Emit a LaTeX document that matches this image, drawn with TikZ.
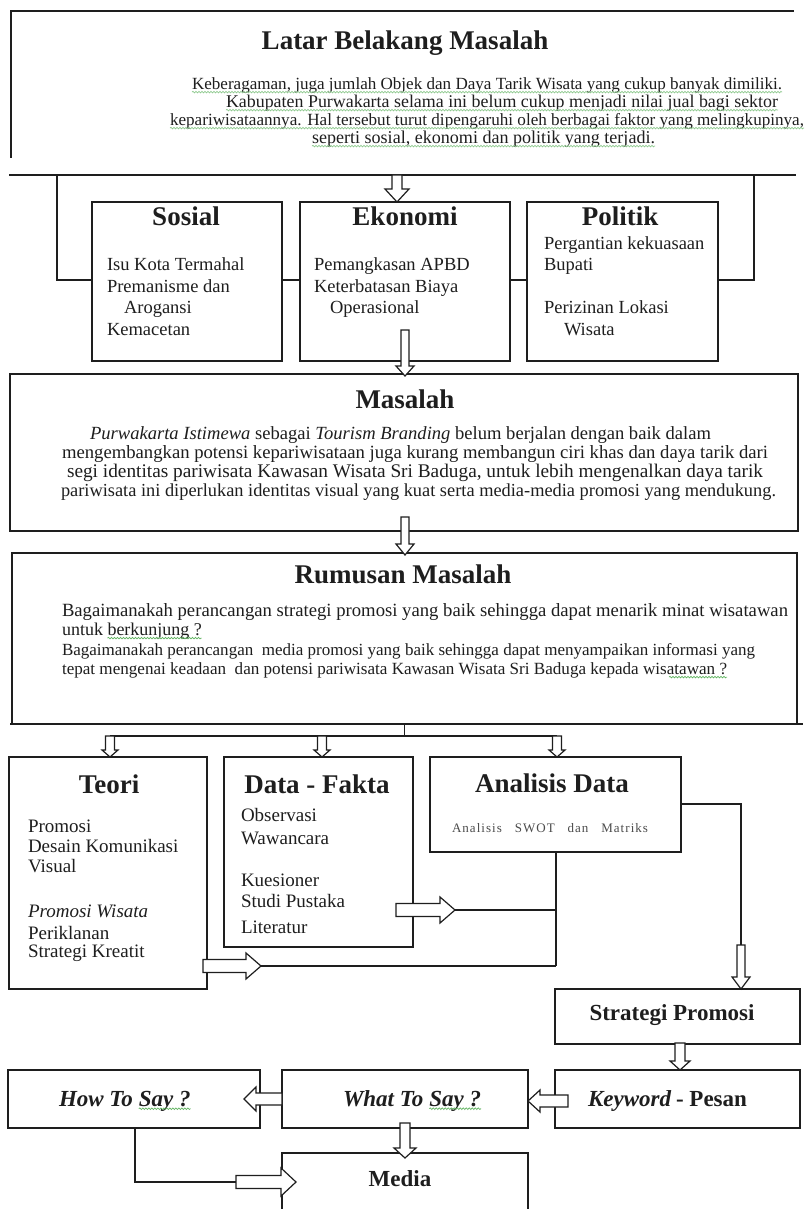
\documentclass[tikz,border=0pt]{standalone}
\usepackage{fontspec}
\setmainfont{Liberation Serif}
\usepackage{graphicx}
\usetikzlibrary{calc,decorations.pathmorphing}
\definecolor{ink}{HTML}{1E1E1E}
\definecolor{squig}{HTML}{62B562}
\newcommand{\fitw}[2]{\resizebox{#1pt}{!}{#2}}
\begin{document}
\begin{tikzpicture}[x=1pt,y=-1pt,
  ln/.style={draw=ink, line width=1.3pt},
  box/.style={draw=ink, line width=1.3pt, fill=white, anchor=north west, inner sep=0pt, outer sep=0pt},
  txt/.style={inner sep=0pt, outer sep=0pt, text=ink, text height=0.7em, text depth=0.22em},
  lt/.style={txt, anchor=west},
  ttl/.style={txt, anchor=center, font=\fontsize{27}{27}\selectfont\bfseries},
  item/.style={lt, font=\fontsize{18.5}{18.5}\selectfont},
  item2/.style={lt, font=\fontsize{19}{19}\selectfont},
  para/.style={lt, font=\fontsize{17}{17}\selectfont},
  lbl/.style={txt, anchor=center, font=\fontsize{23}{23}\selectfont\bfseries},
  lblb/.style={txt, anchor=base west, font=\fontsize{23}{23}\selectfont\bfseries},
  lblw/.style={txt, anchor=base west, font=\fontsize{23}{23}\selectfont\bfseries\itshape},
  wave/.style={draw=squig, line width=0.7pt, decorate, decoration={snake, segment length=3pt, amplitude=0.8pt}},
  pics/harrow/.style n args={4}{code={\draw[draw=ink, line width=1.2pt, fill=white, line join=miter] (0,-#2) -- (#1-#4,-#2) -- (#1-#4,-#3) -- (#1,0) -- (#1-#4,#3) -- (#1-#4,#2) -- (0,#2) -- cycle;}},
]
\fill[white] (0,0) rectangle (808,1209);
\useasboundingbox (0,0) rectangle (808,1209);

% ---- Latar Belakang (open frame)
\draw[ln] (11,158) -- (11,11) -- (794,11);
\draw[ln] (9,175) -- (796,175);
\coordinate (latarbot) at (397,175);
\node[ttl] (latart) at (405,47) {Latar Belakang Masalah};
\node[para] (l1) at (192,87) {\fitw{590}{Keberagaman, juga jumlah Objek dan Daya Tarik Wisata yang cukup banyak dimiliki.}};
\node[para] (l2) at (226,105) {\fitw{552}{Kabupaten Purwakarta selama ini belum cukup menjadi nilai jual bagi sektor}};
\node[para] (l3) at (170,123) {\fitw{634}{kepariwisataannya. Hal tersebut turut dipengaruhi oleh berbagai faktor yang melingkupinya,}};
\node[para] (l4) at (312,141) {\fitw{343}{seperti sosial, ekonomi dan politik yang terjadi.}};
\foreach \n in {l1,l2,l3,l4}{\draw[wave, squig!70] ($(\n.south west)+(0,0.5)$) -- ($(\n.south east)+(0,0.5)$);}

% ---- bracket behind the three boxes
\draw[ln] (57,175) -- (57,280) -- (754,280) -- (754,175);

% ---- boxes
\node[box, minimum width=190pt, minimum height=159pt] (sos) at (92,202) {};
\node[box, minimum width=210pt, minimum height=159pt] (eko) at (300,202) {};
\node[box, minimum width=191pt, minimum height=159pt] (pol) at (527,202) {};
\node[box, minimum width=788pt, minimum height=157pt] (mas) at (10,374) {};
\node[box, minimum width=785pt, minimum height=171pt] (rum) at (12,553) {};
\draw[ln] (10,724) -- (803,724);
\node[box, minimum width=198pt, minimum height=232pt] (teo) at (9,757) {};
\node[box, minimum width=189pt, minimum height=190pt] (dat) at (224,757) {};
\node[box, minimum width=251pt, minimum height=95pt] (ana) at (430,757) {};
\node[box, minimum width=245pt, minimum height=55pt] (str) at (555,989) {};
\node[box, minimum width=245pt, minimum height=58pt] (key) at (555,1070) {};
\node[box, minimum width=246pt, minimum height=58pt] (wha) at (282,1070) {};
\node[box, minimum width=252pt, minimum height=58pt] (how) at (8,1070) {};
\node[box, minimum width=246pt, minimum height=75pt] (med) at (282,1153) {};

% ---- Sosial / Ekonomi / Politik
\node[ttl] (sost) at (186,223) {Sosial};
\node[ttl] (ekot) at (405,223) {Ekonomi};
\node[ttl] (polt) at (620,223) {Politik};
\node[item] (s1) at (107,268) {Isu Kota Termahal};
\node[item] (s2) at (107,290) {Premanisme dan};
\node[item] (s3) at (124,311) {Arogansi};
\node[item] (s4) at (107,333) {Kemacetan};
\node[item] (e1) at (314,268) {Pemangkasan APBD};
\node[item] (e2) at (314,290) {Keterbatasan Biaya};
\node[item] (e3) at (330,311) {Operasional};
\node[item] (p1) at (544,247) {Pergantian kekuasaan};
\node[item] (p2) at (544,268) {Bupati};
\node[item] (p3) at (544,311) {Perizinan Lokasi};
\node[item] (p4) at (564,333) {Wisata};

% ---- Masalah
\node[ttl] (mast) at (405,406) {Masalah};
\node[para] (m1) at (90,437) {\fitw{621}{\textit{Purwakarta Istimewa} sebagai \textit{Tourism Branding} belum berjalan dengan baik dalam}};
\node[para] (m2) at (62,456) {\fitw{706}{mengembangkan potensi kepariwisataan juga kurang membangun ciri khas dan daya tarik dari}};
\node[para] (m3) at (67,475) {\fitw{696}{segi identitas pariwisata Kawasan Wisata Sri Baduga, untuk lebih mengenalkan daya tarik}};
\node[para] (m4) at (61,494) {\fitw{715}{pariwisata ini diperlukan identitas visual yang kuat serta media-media promosi yang mendukung.}};

% ---- Rumusan Masalah
\node[ttl] (rumt) at (403,581) {Rumusan Masalah};
\node[para] (r1) at (62,614) {\fitw{726}{Bagaimanakah perancangan strategi promosi yang baik sehingga dapat menarik minat wisatawan}};
\node[para, font=\fontsize{18}{18}\selectfont] (r2a) at (62,633) {untuk};
\node[para, font=\fontsize{18}{18}\selectfont, anchor=base west] (r2b) at ($(r2a.base east)+(4.5,0)$) {berkunjung ?};
\draw[wave] ($(r2b.south west)+(0,0.5)$) -- ($(r2b.south east)+(0,0.5)$);
\node[para] (r3) at (62,653) {\fitw{693}{Bagaimanakah perancangan\ \ media promosi yang baik sehingga dapat menyampaikan informasi yang}};
\node[para] (r4) at (62,672) {\fitw{665}{tepat mengenai keadaan\ \ dan potensi pariwisata Kawasan Wisata Sri Baduga kepada wisatawan ?}};
\draw[wave] ($(r4.south east)+(-58,0.5)$) -- ($(r4.south east)+(0,0.5)$);

% ---- Teori
\node[ttl] (teot) at (109,791) {Teori};
\node[item2] (t1) at (28,830) {Promosi};
\node[item2] (t2) at (28,850) {Desain Komunikasi};
\node[item2] (t3) at (28,870) {Visual};
\node[item2] (t4) at (28,915) {\textit{Promosi Wisata}};
\node[item2] (t5) at (28,937) {Periklanan};
\node[item2] (t6) at (28,955) {Strategi Kreatit};

% ---- Data - Fakta
\node[ttl] (datt) at (317,791) {Data - Fakta};
\node[item2] (d1) at (241,819) {Observasi};
\node[item2] (d2) at (241,842) {Wawancara};
\node[item2] (d3) at (241,884) {Kuesioner};
\node[item2] (d4) at (241,905) {Studi Pustaka};
\node[item2] (d5) at (241,931) {Literatur};

% ---- Analisis Data
\node[ttl] (anat) at (552,790) {Analisis Data};
\node[lt, font=\fontsize{13}{13}\selectfont\addfontfeature{LetterSpace=8}, text=ink!80] (anas) at (452,830) {\makebox[196pt][s]{Analisis\hfill SWOT\hfill dan\hfill Matriks}};

% ---- bottom labels
\node[lbl] (strt) at (672,1018) {Strategi Promosi};
\node[lblw] (keya) at (588,1106) {Keyword};
\node[lblb] (keyb) at ($(keya.base east)+(5,0)$) {- Pesan};
\node[lblw] (whata) at (343,1106) {What To};
\node[lblw] (whatb) at ($(whata.base east)+(6,0)$) {Say ?};
\node[lblw] (howa) at (59,1106) {How To};
\node[lblw] (howb) at ($(howa.base east)+(6,0)$) {Say ?};
\draw[wave] ($(whatb.south west)+(0,0.5)$) -- ($(whatb.south east)+(0,0.5)$);
\draw[wave] ($(howb.south west)+(0,0.5)$) -- ($(howb.south east)+(0,0.5)$);
\node[lbl] (medt) at (400,1184) {Media};

% ---- connectors
\draw[ln] (rum.south) -- ++(0,12) coordinate (brm);
\draw[ln] (110,736) -- (557,736);
\draw[ln] (ana.east |- 0,804) -- (741,804) -- (741,946);
\draw[ln] (ana.south -| 556,0) -- (556,966);
\draw[ln] (455,910) -- (556,910);
\draw[ln] (261,966) -- (556,966);
\draw[ln] (how.south -| 135,0) -- (135,1182) -- (237,1182);

% ---- hollow arrows
\pic[rotate=-90] at (latarbot) {harrow={27}{5}{12}{13}};
\pic[rotate=-90] at (405,330) {harrow={46}{4}{9}{10}};
\pic[rotate=-90] at (405,517) {harrow={38}{4}{9}{11}};
\pic[rotate=-90] at (110,736) {harrow={21}{4.5}{8}{7}};
\pic[rotate=-90] at (322,736) {harrow={21}{4.5}{8}{7}};
\pic[rotate=-90] at (557,736) {harrow={21}{4.5}{8}{7}};
\pic at (396,910) {harrow={59}{6.5}{13}{15}};
\pic at (203,966) {harrow={58}{6.5}{13}{15}};
\pic[rotate=-90] at (741,945) {harrow={44}{4}{9}{12}};
\pic[rotate=-90] at (680,1043) {harrow={27}{5}{10}{9}};
\pic[rotate=180] at (568,1101) {harrow={40}{6}{11}{12}};
\pic[rotate=180] at (282,1099) {harrow={38}{6}{12}{12}};
\pic[rotate=-90] at (405,1123) {harrow={35}{5}{11}{10}};
\pic at (236,1182) {harrow={60}{6.5}{14}{15}};
\end{tikzpicture}
\end{document}
